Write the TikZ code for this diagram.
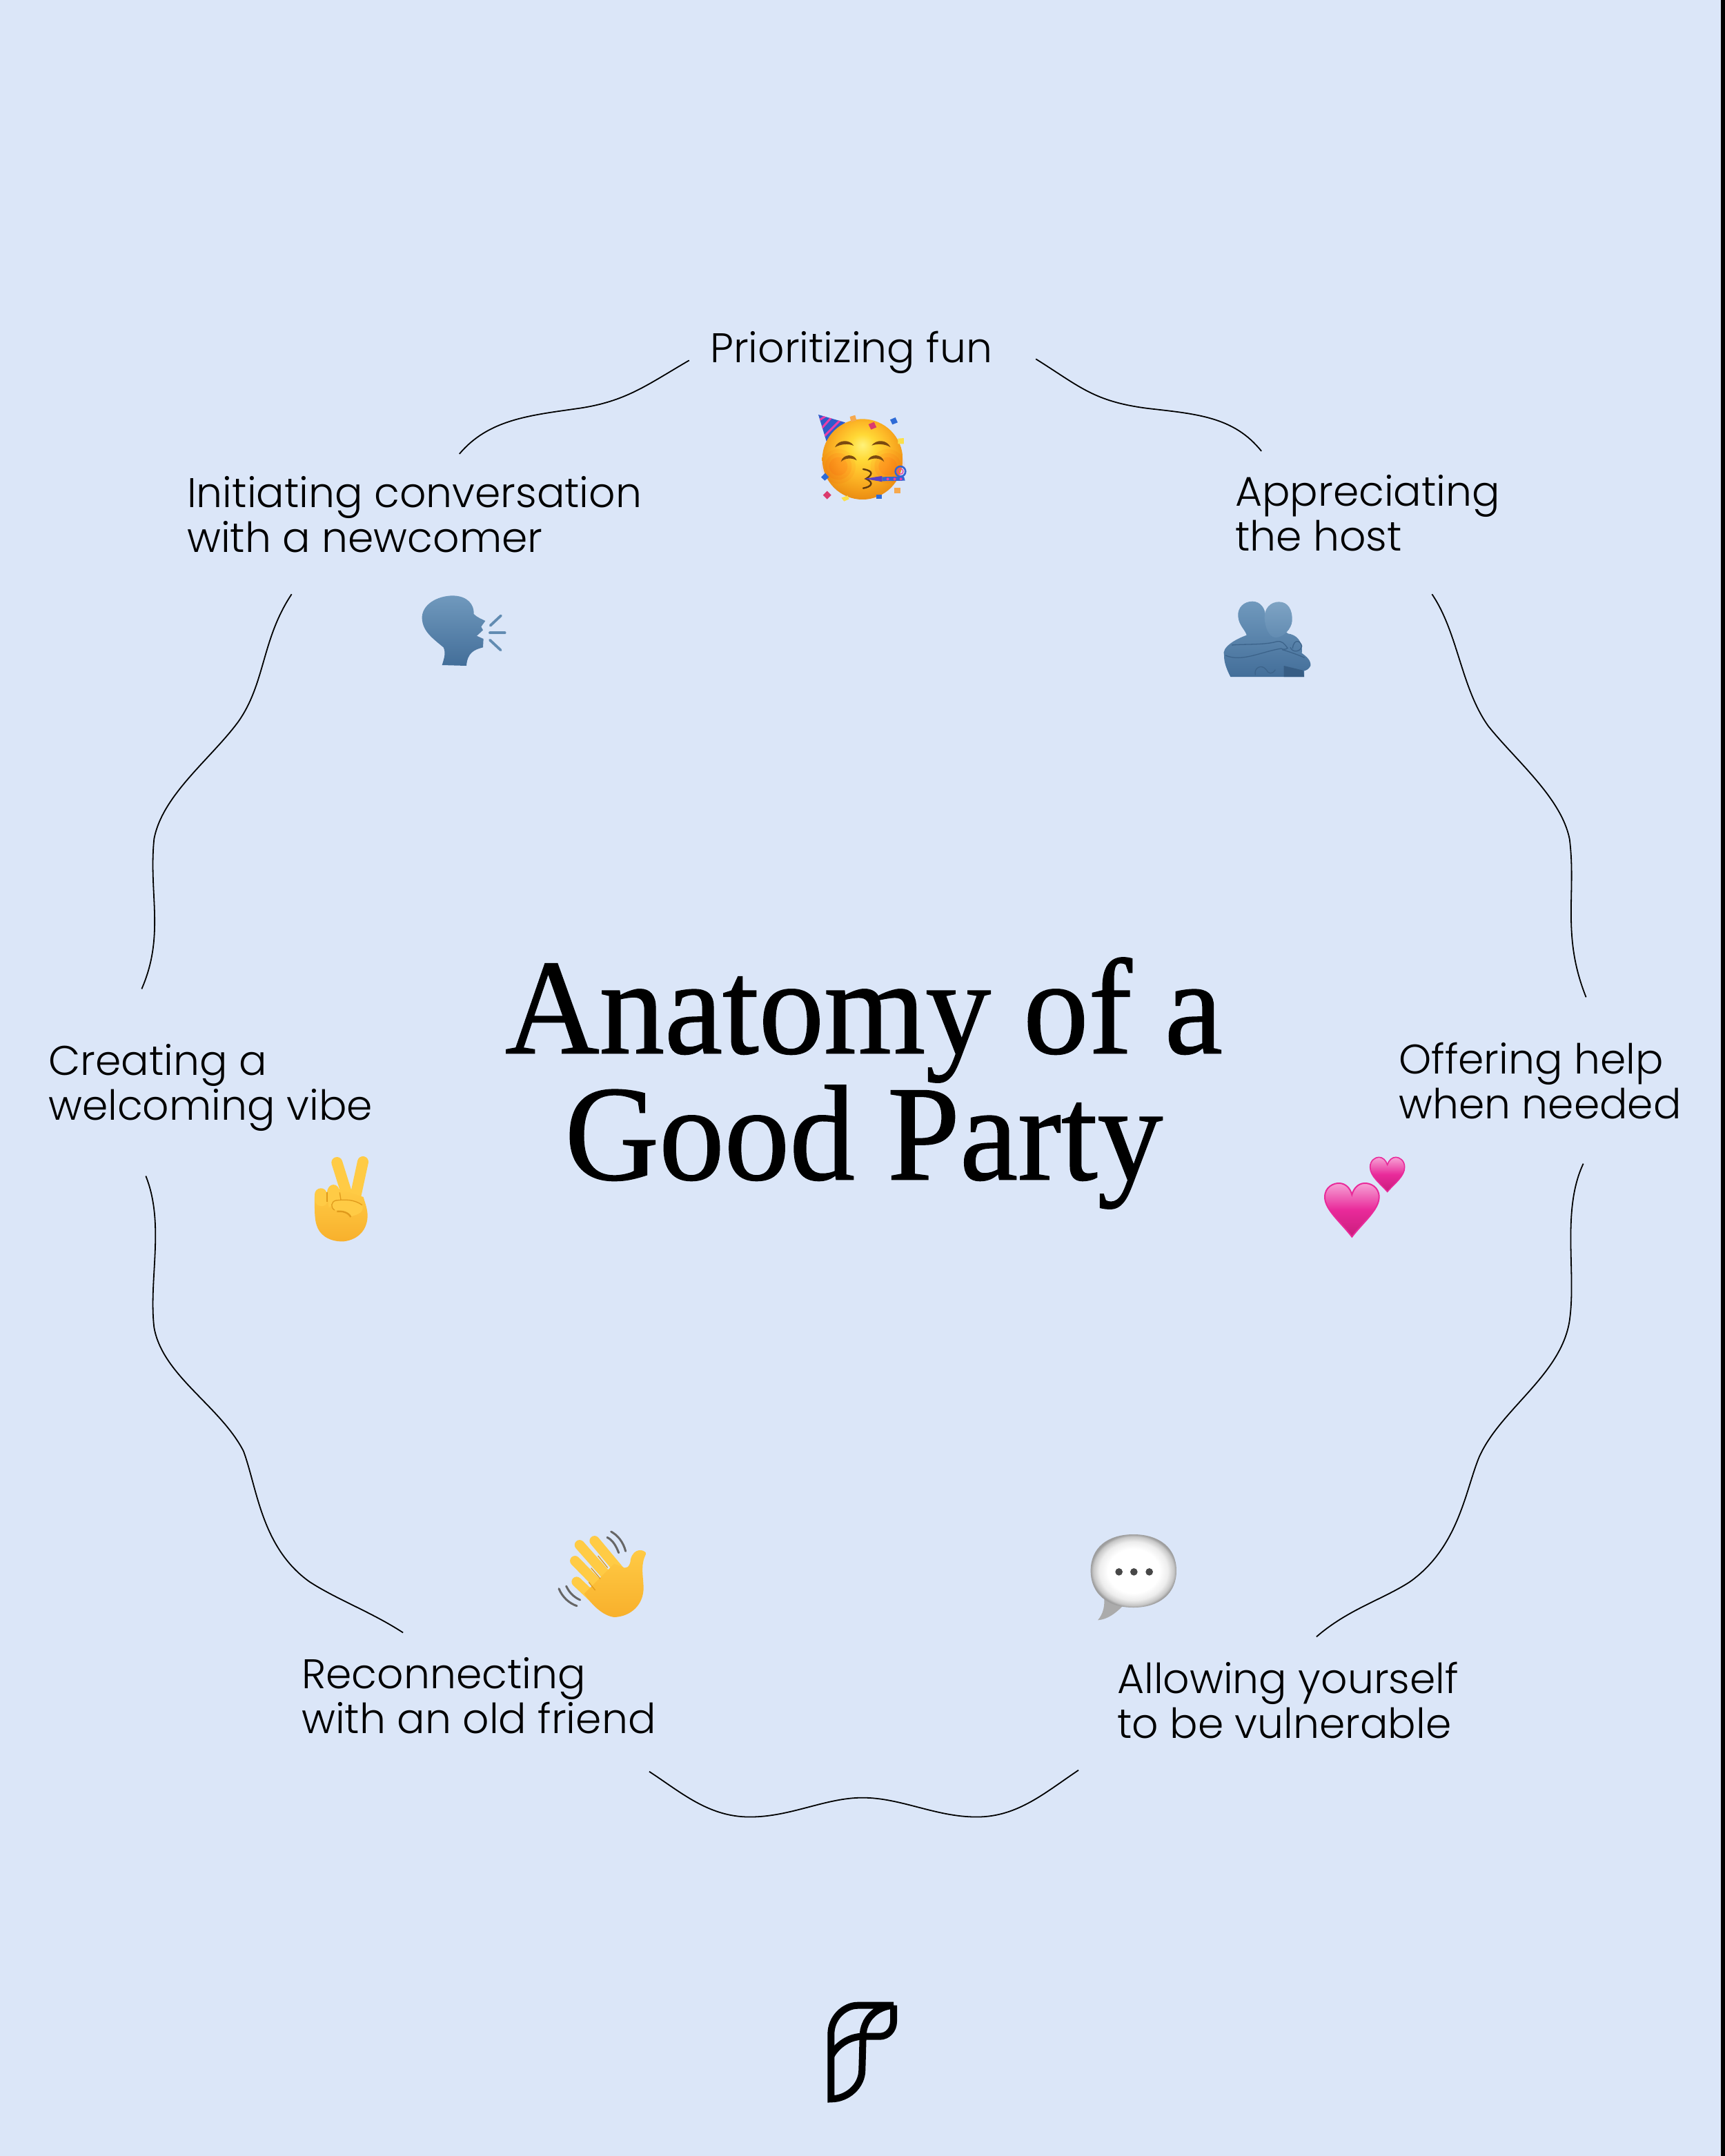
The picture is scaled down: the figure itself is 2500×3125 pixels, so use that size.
\documentclass[tikz,border=0pt]{standalone}
\usepackage{fontspec}
\usetikzlibrary{calc}
\newfontfamily\labfont{Poppins Light}
\newfontfamily\titlefont[FakeStretch=0.96,FakeBold=0.8]{Liberation Serif}
\definecolor{bgblue}{HTML}{DBE6F8}
\definecolor{skinA}{HTML}{FFCB45}
\definecolor{skinB}{HTML}{F8B02C}
\definecolor{skinC}{HTML}{E09A1C}
\definecolor{slateA}{HTML}{7099BD}
\definecolor{slateB}{HTML}{436E99}
\definecolor{slateC}{HTML}{34597F}
\definecolor{pinkA}{HTML}{F6A3D6}
\definecolor{pinkB}{HTML}{E92A9A}
\definecolor{pinkC}{HTML}{C91C7C}
\definecolor{faceA}{HTML}{FFF27A}
\definecolor{faceB}{HTML}{FFD936}
\definecolor{faceC}{HTML}{FDB827}
\definecolor{faceD}{HTML}{F29A18}
\definecolor{faceE}{HTML}{E07F10}
\definecolor{eyeb}{HTML}{7A4A10}
\definecolor{hatb}{HTML}{2F5BCB}
\definecolor{hatp}{HTML}{E93FA8}
\definecolor{purp}{HTML}{5A3FC2}
\definecolor{confB}{HTML}{2E6BD6}
\definecolor{confR}{HTML}{DB3A6E}
\definecolor{confO}{HTML}{F6A94E}
\definecolor{confY}{HTML}{FBE04A}
\pgfdeclareradialshading{facesh}{\pgfpoint{0bp}{9bp}}{color(0bp)=(faceA); color(8bp)=(faceB); color(17bp)=(faceC); color(25bp)=(faceD); color(33bp)=(faceE); color(50bp)=(faceE)}
\pgfdeclareradialshading{bubblesh}{\pgfpoint{0bp}{0bp}}{color(0bp)=(white); color(15bp)=(white); color(20bp)=(black!7); color(23.5bp)=(black!22); color(25bp)=(black!38); color(50bp)=(black!38)}
\tikzset{
 lab/.style={font=\labfont\fontsize{60}{65}\selectfont,align=left,inner sep=0pt,anchor=west,text=black},
 wave/.style={draw=black,line width=1.8pt},
 logo/.style={draw=black,line width=10pt,miter limit=10},
 sk/.style={line width=1.3pt,draw=skinC},
}
\begin{document}
\begin{tikzpicture}[x=1pt,y=-1pt]
\useasboundingbox (0,0) rectangle (2500,3125);
\fill[bgblue] (0,0) rectangle (2500,3125);
\fill[black] (2494,0) rectangle (2500,3125);

% title
\node[font=\titlefont\fontsize{197}{183}\selectfont,align=center,inner sep=0pt,text=black] (title) at (1252,1570) {Anatomy of a\\Good Party};

% labels
\node[lab] (fun) at (1029,511) {Prioritizing fun};
\node[lab] (init) at (271,746) {Initiating conversation\\with a newcomer};
\node[lab] (host) at (1790,744) {Appreciating\\the host};
\node[lab] (help) at (2027,1567) {Offering help\\when needed};
\node[lab] (vibe) at (70,1576) {Creating a\\welcoming vibe};
\node[lab] (friend) at (437,2458) {Reconnecting\\with an old friend};
\node[lab] (vuln) at (1619,2465) {Allowing yourself\\to be vulnerable};

% connectors
\begin{scope}[x=1.9936pt,y=-1.9936pt]
\coordinate (ta) at (753,261); \coordinate (tb) at (917,328);
\coordinate (ua) at (501,262); \coordinate (ub) at (334,330);
\coordinate (ra) at (1041,432); \coordinate (rb) at (1153,725);
\coordinate (la) at (212,432); \coordinate (lb) at (103,719);
\coordinate (da) at (106,855); \coordinate (db) at (293,1187);
\coordinate (ea) at (1151,846); \coordinate (eb) at (957,1190);
\coordinate (ba) at (472,1288); \coordinate (bb) at (784,1287);
\draw[wave] (ta) .. controls (785,281) and (795,292) .. (835,297) .. controls (870,301) and (897,303) .. (tb);
\draw[wave] (ua) .. controls (470,280) and (455,292) .. (420,297) .. controls (385,302) and (355,305) .. (ub);
\draw[wave] (ra) .. controls (1060,460) and (1062,500) .. (1082,528) .. controls (1102,553) and (1135,580) .. (1141,610) .. controls (1146,650) and (1135,680) .. (rb);
\draw[wave] (la) .. controls (190,465) and (193,497) .. (173,525) .. controls (153,552) and (118,578) .. (112,610) .. controls (108,650) and (120,680) .. (lb);
\draw[wave] (da) .. controls (120,890) and (108,930) .. (112,965) .. controls (118,1000) and (160,1022) .. (177,1055) .. controls (187,1082) and (190,1125) .. (225,1150) .. controls (245,1163) and (270,1172) .. (db);
\draw[wave] (ea) .. controls (1135,880) and (1146,925) .. (1141,960) .. controls (1135,1000) and (1090,1025) .. (1075,1060) .. controls (1065,1085) and (1060,1125) .. (1025,1150) .. controls (1005,1163) and (980,1170) .. (eb);
\draw[wave] (ba) .. controls (495,1303) and (515,1321) .. (545,1321) .. controls (575,1321) and (600,1307) .. (627,1307) .. controls (655,1307) and (680,1321) .. (710,1321) .. controls (740,1321) and (760,1303) .. (bb);
\end{scope}

% logo
\begin{scope}[shift={(1160,2880)},x=0.3333pt,y=-0.3333pt]
\draw[logo] (133,487) -- (133,205) .. controls (133,135) and (190,80) .. (250,80) -- (405,80) .. controls (330,85) and (272,140) .. (272,215) -- (268,360) .. controls (268,430) and (205,487) .. cycle;
\draw[logo] (405,80) -- (405,150) .. controls (405,185) and (380,215) .. (345,215) -- (272,215);
\draw[logo] (133,300) .. controls (160,250) and (215,215) .. (272,215);
\end{scope}

% party face
\begin{scope}[shift={(1140,580)},x=0.3333pt,y=-0.3333pt]
\fill[hatb] (138,63) -- (255,97) -- (175,185) -- cycle;
\begin{scope}
\clip (138,63) -- (255,97) -- (175,185) -- cycle;
\draw[hatp,line width=3pt] (145,85) -- (172,68);
\draw[hatp,line width=3pt] (150,125) -- (195,75);
\draw[hatp,line width=3pt] (160,160) -- (232,88);
\end{scope}
\shade[shading=facesh] (330,257) circle [radius=175];
\foreach \r/\o in {75/.05,58/.07,40/.08} {
 \fill[red!80!orange,opacity=\o] (225,288) circle [radius=\r];
 \fill[red!80!orange,opacity=\o] (440,288) circle [radius=\r];
}
\fill[confO] (275,72) -- (298,65) -- (304,88) -- (280,95) -- cycle;
\fill[confB] (450,85) -- (473,75) -- (483,97) -- (460,106) -- cycle;
\fill[confR] (356,105) -- (380,95) -- (391,118) -- (367,128) -- cycle;
\fill[confY] (484,167) -- (510,165) -- (510,190) -- (484,190) -- cycle;
\fill[confB] (150,335) -- (168,317) -- (184,335) -- (166,350) -- cycle;
\fill[confR] (158,413) -- (176,395) -- (194,413) -- (176,431) -- cycle;
\fill[confY] (238,425) -- (265,415) -- (272,430) -- (250,440) -- cycle;
\fill[confO] (468,382) rectangle (495,405);
\fill[confB] (390,412) rectangle (414,430);
\fill[eyeb] (210,205) .. controls (225,170) and (275,170) .. (292,198) .. controls (270,188) and (235,190) .. cycle;
\fill[eyeb] (370,197) .. controls (390,170) and (435,170) .. (452,205) .. controls (430,190) and (395,188) .. cycle;
\fill[eyeb] (236,268) .. controls (245,232) and (295,232) .. (305,262) .. controls (285,250) and (255,250) .. cycle;
\fill[eyeb] (353,262) .. controls (365,232) and (415,232) .. (424,268) .. controls (405,250) and (375,250) .. cycle;
\draw[eyeb!80!black,line width=2.4pt,line cap=round] (333,300) .. controls (365,305) and (385,318) .. (345,342) .. controls (385,360) and (365,378) .. (333,383);
\fill[purp] (338,342) -- (400,332) -- (415,330) -- (415,355) -- (400,352) -- cycle;
\fill[confB!85!purp] (415,334) -- (510,332) -- (515,350) -- (415,352) -- cycle;
\foreach \p in {440,470,497} \fill[hatp] (\p,343) circle [radius=6];
\draw[confB!85!purp,line width=2.6pt] (495,310) circle [radius=22];
\draw[hatp,line width=1.3pt] (495,310) circle [radius=12];
\end{scope}

% speaking head
\begin{scope}[shift={(590,840)},x=0.3333pt,y=-0.3333pt]
\shade[top color=slateA,bottom color=slateB] (152,372) .. controls (160,345) and (170,320) .. (158,295) .. controls (110,255) and (68,225) .. (65,170) .. controls (62,110) and (130,70) .. (200,70) .. controls (265,72) and (292,110) .. (290,150) .. controls (305,165) and (325,172) .. (340,180) -- (322,205) -- (330,220) -- (303,245) -- (332,258) -- (330,295) .. controls (290,305) and (262,320) .. (258,375) -- cycle;
\draw[slateA!70!slateB,line width=3.8pt,line cap=round] (362,200) -- (408,157);
\draw[slateA!70!slateB,line width=3.8pt,line cap=round] (360,232) -- (425,232);
\draw[slateA!70!slateB,line width=3.8pt,line cap=round] (360,263) -- (407,307);
\end{scope}

% hug
\begin{scope}[shift={(1760,850)},x=0.3333pt,y=-0.3333pt]
\shade[top color=slateA,bottom color=slateB] (70,393) .. controls (45,345) and (42,320) .. (42,300) .. controls (30,265) and (90,230) .. (140,212) .. controls (135,190) and (106,170) .. (103,130) .. controls (100,90) and (130,65) .. (165,65) .. controls (200,65) and (222,95) .. (222,130) -- (320,205) .. controls (355,210) and (385,235) .. (380,290) .. controls (400,305) and (420,320) .. (418,345) .. controls (410,360) and (400,365) .. (390,367) -- (390,393) -- cycle;
\shade[top color=slateA!90!white,bottom color=slateA!70!slateB] (218,140) .. controls (215,95) and (245,67) .. (280,67) .. controls (320,67) and (340,100) .. (338,150) .. controls (335,185) and (300,222) .. (265,222) .. controls (235,218) and (222,180) .. (218,140) -- cycle;
\fill[slateC!80!slateB] (302,393) -- (302,345) -- (385,365) -- (390,393) -- cycle;
\draw[slateB!90!black,line width=1.3pt] (48,300) .. controls (120,330) and (200,285) .. (290,270) .. controls (300,275) and (310,275) .. (318,268) .. controls (305,250) and (295,235) .. (270,240) .. controls (220,255) and (130,250) .. (75,255);
\draw[slateB!90!black,line width=1.3pt] (295,275) .. controls (330,285) and (370,300) .. (392,310);
\draw[slateB!90!black,line width=1.3pt] (340,270) .. controls (345,225) and (375,235) .. (380,260) .. controls (375,285) and (340,290) .. (330,265);
\draw[slateB!90!black,line width=1.3pt] (178,385) .. controls (170,355) and (205,335) .. (225,362) .. controls (235,380) and (250,385) .. (265,362);
\end{scope}

% hearts
\begin{scope}[shift={(1900,1660)},x=0.3333pt,y=-0.3333pt]
\shade[top color=pinkA,bottom color=pinkC,middle color=pinkB,draw=pinkB,line width=2pt] (178,398) .. controls (130,335) and (60,280) .. (60,225) .. controls (60,180) and (100,163) .. (125,165) .. controls (150,167) and (170,185) .. (178,215) .. controls (186,185) and (206,167) .. (231,165) .. controls (256,163) and (296,180) .. (296,225) .. controls (296,280) and (226,335) .. cycle;
\shade[top color=pinkA,bottom color=pinkC,middle color=pinkB,draw=pinkB,line width=1.6pt] (332,202) .. controls (300,165) and (257,135) .. (257,95) .. controls (257,65) and (280,52) .. (295,52) .. controls (312,52) and (326,65) .. (332,85) .. controls (338,65) and (352,52) .. (369,52) .. controls (384,52) and (407,65) .. (407,95) .. controls (407,135) and (364,165) .. cycle;
\end{scope}

% peace hand
\begin{scope}[shift={(430,1660)},x=0.3333pt,y=-0.3333pt]
\draw[skinA,line width=16pt,line cap=round] (175,75) -- (222,225);
\draw[skinA,line width=16pt,line cap=round] (288,72) -- (255,225);
\shade[top color=skinA,bottom color=skinB] (78,220) .. controls (78,290) and (75,340) .. (100,375) .. controls (125,410) and (170,420) .. (205,418) .. controls (270,410) and (310,365) .. (308,300) .. controls (305,265) and (295,245) .. (290,225) -- (185,190) -- cycle;
\fill[skinA] (78,215) .. controls (78,180) and (130,175) .. (132,215) -- (132,245) .. controls (130,275) and (78,270) .. (78,235) -- cycle;
\fill[skinA] (132,205) .. controls (135,160) and (185,160) .. (187,205) -- (190,240) -- (140,270) -- cycle;
\draw[sk] (132,205) -- (132,245);
\draw[sk] (187,205) -- (192,238);
\fill[skinA] (170,240) .. controls (210,235) and (250,235) .. (285,260) .. controls (295,290) and (270,300) .. (235,310) .. controls (225,290) and (200,285) .. (165,282) .. controls (145,270) and (150,245) .. (170,240) -- cycle;
\draw[sk] (285,260) .. controls (250,235) and (210,235) .. (170,240) .. controls (150,245) and (145,270) .. (165,282);
\draw[skinC,line width=2.4pt] (175,288) .. controls (200,285) and (225,292) .. (235,312);
\end{scope}

% waving hand
\begin{scope}[shift={(790,2200)},x=0.3333pt,y=-0.3333pt]
\foreach \a/\b/\c/\d in {137/278/240/375,130/187/250/310,150/118/280/265,215/100/340/250}
 \draw[skinA,line width=14.5pt,line cap=round] (\a,\b) -- (\c,\d);
\shade[top color=skinA,bottom color=skinB] (170,330) .. controls (205,380) and (250,425) .. (300,432) .. controls (370,430) and (430,380) .. (428,300) .. controls (425,240) and (415,200) .. (440,155) .. controls (430,135) and (385,130) .. (372,180) .. controls (370,215) and (350,225) .. (335,212) -- (300,200) -- cycle;
\draw[skinC,line width=1.3pt] (190,280) -- (218,315);
\draw[skinC,line width=1.3pt] (200,218) -- (240,265);
\draw[skinC,line width=1.3pt] (230,165) -- (272,217);
\draw[black!60,line width=3pt,line cap=round] (287,60) .. controls (315,75) and (340,105) .. (350,145);
\draw[black!60,line width=3pt,line cap=round] (270,85) .. controls (295,97) and (310,125) .. (320,152);
\draw[black!60,line width=3pt,line cap=round] (60,308) .. controls (75,345) and (105,372) .. (138,383);
\draw[black!60,line width=3pt,line cap=round] (92,297) .. controls (105,325) and (125,345) .. (152,357);
\end{scope}

% speech bubble
\begin{scope}[shift={(1560,2210)},x=0.3333pt,y=-0.3333pt]
\fill[black!33] (118,300) .. controls (128,350) and (115,390) .. (93,415) .. controls (135,412) and (170,385) .. (200,355) -- cycle;
\shade[shading=bubblesh] (248,42) .. controls (360,42) and (435,100) .. (435,200) .. controls (435,300) and (360,360) .. (248,360) .. controls (135,360) and (62,300) .. (62,200) .. controls (62,100) and (135,42) .. (248,42) -- cycle;
\foreach \p in {185,250,317} \fill[black!72] (\p,205) circle [radius=16];
\end{scope}
\end{tikzpicture}
\end{document}
